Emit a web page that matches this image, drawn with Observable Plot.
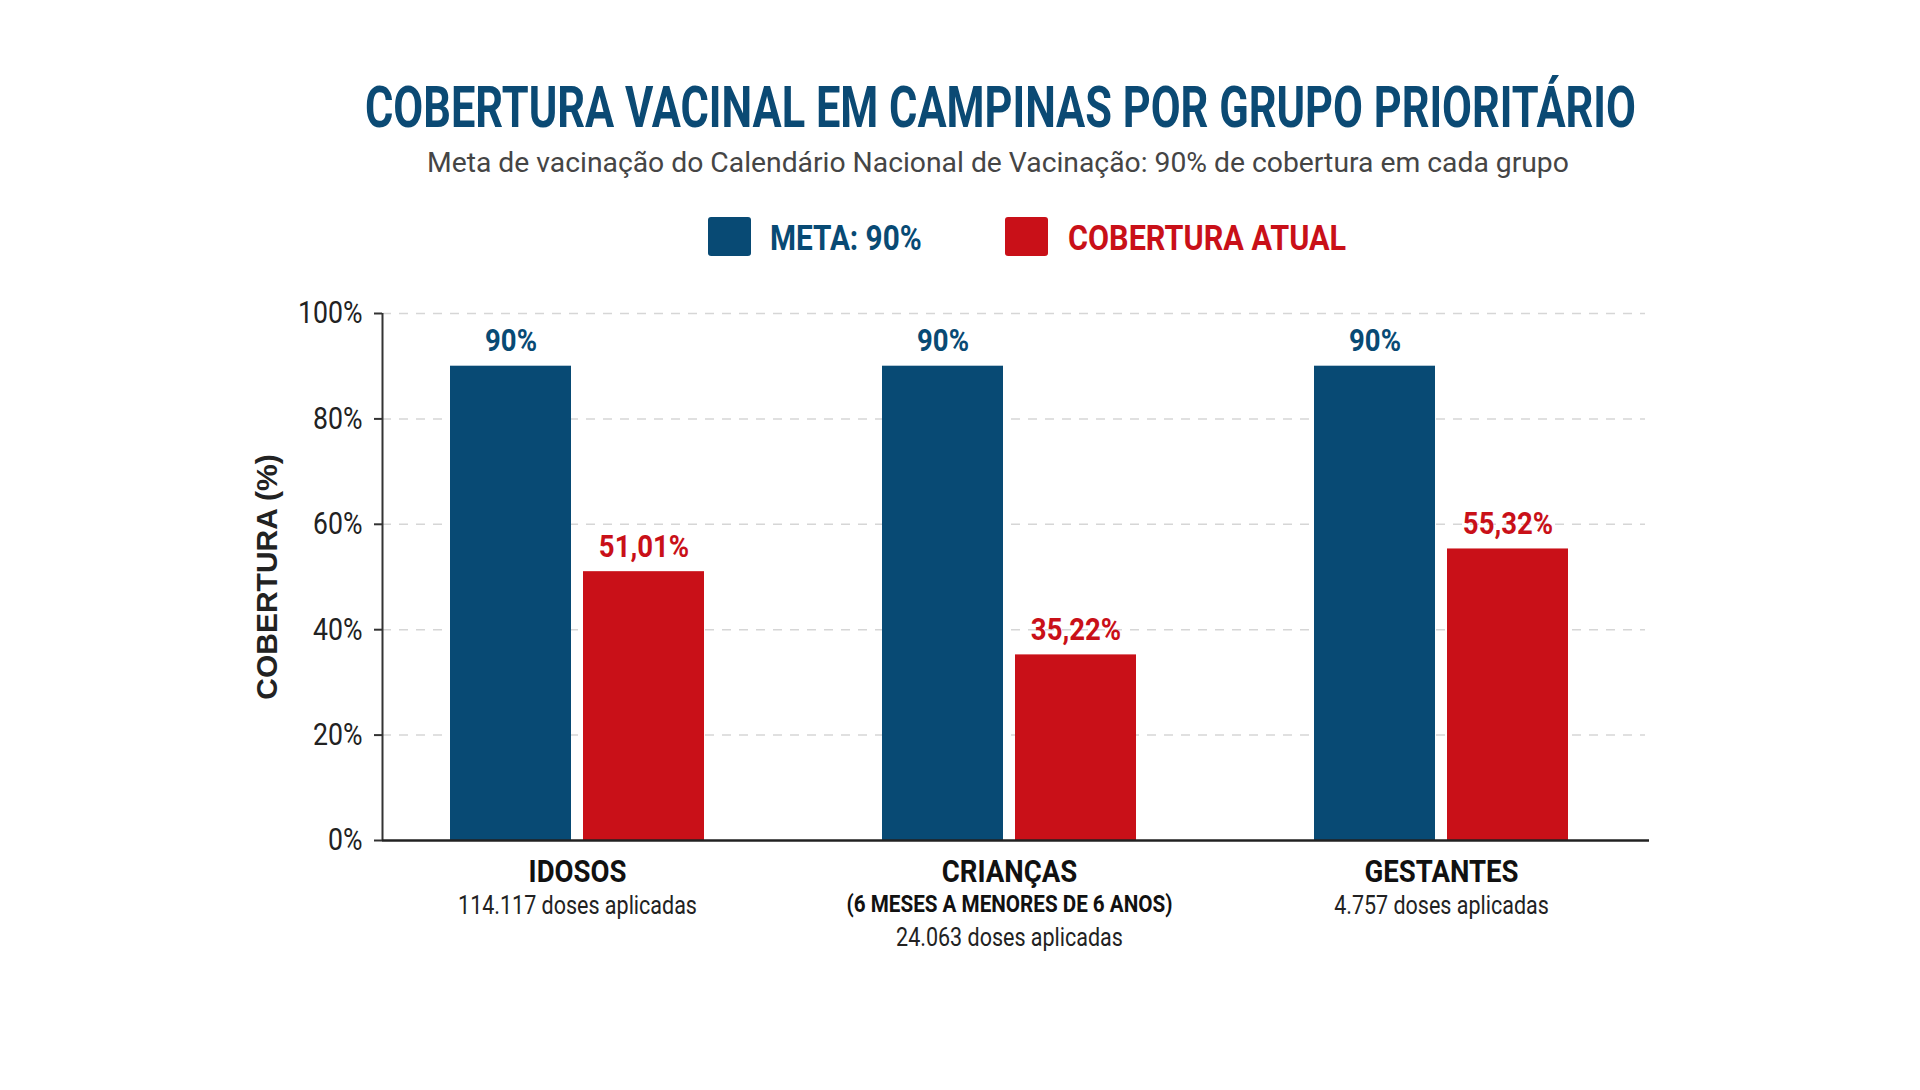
<!DOCTYPE html>
<html lang="pt-BR">
<head>
<meta charset="utf-8">
<script src="https://cdn.jsdelivr.net/npm/d3@7"></script>
<script src="https://cdn.jsdelivr.net/npm/@observablehq/plot@0.6"></script>
<style>
  html, body { margin: 0; padding: 0; background: #ffffff; }
  body { width: 1920px; height: 1090px; overflow: hidden; font-family: Roboto, "Noto Sans", sans-serif; }
  #header { position: relative; width: 1920px; height: 270px; }
  .abs { position: absolute; white-space: nowrap; line-height: 1; }
  #title { font-size: 58px; font-weight: 700; color: #0b4a74; transform-origin: 0 50%; }
  #subtitle { font-size: 27px; font-weight: 400; color: #454545; transform-origin: 0 50%; }
  .swatch { position: absolute; width: 43px; height: 39px; border-radius: 3px; }
  .legend-label { font-size: 35px; font-weight: 700; transform-origin: 0 50%; }
  #chart { position: relative; width: 1920px; height: 730px; }
  #chart svg { position: absolute; left: 0; top: 0; }
</style>
</head>
<body>
<div id="header">
  <div id="title" class="abs">COBERTURA VACINAL EM CAMPINAS POR GRUPO PRIORITÁRIO</div>
  <div id="subtitle" class="abs">Meta de vacinação do Calendário Nacional de Vacinação: 90% de cobertura em cada grupo</div>
  <div id="sw-meta" class="swatch" style="left:708px; top:217px;"></div>
  <div id="lg-meta" class="abs legend-label" style="left:770px; top:221px;"></div>
  <div id="sw-atual" class="swatch" style="left:1005px; top:217px;"></div>
  <div id="lg-atual" class="abs legend-label" style="left:1068px; top:221px;"></div>
</div>
<div id="chart"></div>
<script>
// Priority groups and their detail lines
const groups = ["IDOSOS", "CRIANÇAS", "GESTANTES"];
const groupNotes = ["", "(6 MESES A MENORES DE 6 ANOS)", ""];
const dosesText = ["114.117 doses aplicadas", "24.063 doses aplicadas", "4.757 doses aplicadas"];

// Series: national target and current coverage (%)
const series = ["META: 90%", "COBERTURA ATUAL"];
const seriesColors = ["#084a74", "#c91018"];
const metaValues = [90, 90, 90];
const coberturaValues = [51.01, 35.22, 55.32];

// Y axis ticks (%)
const yTicks = [0, 20, 40, 60, 80, 100];
const yLabel = "COBERTURA (%)";

const rows = groups.flatMap((g, i) => [
  {group: g, serie: series[0], value: metaValues[i]},
  {group: g, serie: series[1], value: coberturaValues[i]}
]);
const groupRows = groups.map((g, i) => ({group: g, note: groupNotes[i], doses: dosesText[i]}));

const fmtPct = v => (Number.isInteger(v) ? String(v) : v.toFixed(2).replace(".", ",")) + "%";
const colorOf = s => seriesColors[series.indexOf(s)];

// Header: legend
document.getElementById("sw-meta").style.background = seriesColors[0];
document.getElementById("sw-atual").style.background = seriesColors[1];
const lgMeta = document.getElementById("lg-meta");
lgMeta.textContent = series[0]; lgMeta.style.color = seriesColors[0];
const lgAtual = document.getElementById("lg-atual");
lgAtual.textContent = series[1]; lgAtual.style.color = seriesColors[1];

// Condensed lettering: squeeze a block horizontally to a given width
function fitBlock(el, targetWidth, centerX, top) {
  const w = el.offsetWidth;
  const k = targetWidth / w;
  el.style.top = top + "px";
  if (centerX != null) el.style.left = (centerX - targetWidth / 2) + "px";
  el.style.transform = `scaleX(${k})`;
}
fitBlock(document.getElementById("title"), 1271, 1000, 78);
fitBlock(document.getElementById("subtitle"), 1142, 998, 150);
fitBlock(lgMeta, 152, null, 221);
fitBlock(lgAtual, 278, null, 221);

// Shared frame geometry for the two layers
const frame = {width: 1920, height: 730, marginTop: 43, marginBottom: 160, marginLeft: 382, marginRight: 284};
const yScale = {domain: [0, 100], axis: null, label: null};
const fontStyle = {fontFamily: "Roboto, sans-serif", background: "transparent", color: "#222"};

// Back layer: grid, axes and y title across the whole frame
const axes = Plot.plot({
  ...frame,
  style: fontStyle,
  x: {domain: [0, 1], axis: null},
  y: yScale,
  marks: [
    Plot.ruleY(yTicks.filter(d => d > 0), {
      stroke: "#d6d6d6", strokeWidth: 1.5, strokeDasharray: "9,8", insetRight: -9
    }),
    Plot.axisY({
      ticks: yTicks, tickFormat: d => d + "%",
      tickSize: 8, tickPadding: 12, fontSize: 31, stroke: "#333", strokeWidth: 2,
      fill: "#222", label: null
    }),
    Plot.ruleX([0], {y1: 0, y2: 100, stroke: "#333", strokeWidth: 2}),
    Plot.text([yLabel], {
      frameAnchor: "left", textAnchor: "middle", text: d => d, rotate: -90, dx: -115,
      fontFamily: "Liberation Sans, Arial, sans-serif", fontSize: 30, fontWeight: 700, fill: "#222"
    })
  ]
});

// Front layer: grouped bars with value and group labels
const bars = Plot.plot({
  ...frame,
  style: fontStyle,
  fx: {domain: groups, paddingInner: 0.2, paddingOuter: 0.05, axis: null, label: null},
  x: {domain: series, paddingInner: 0.09, paddingOuter: 0.34, axis: null, label: null},
  y: yScale,
  marks: [
    Plot.barY(rows, {
      fx: "group", x: "serie", y: "value",
      fill: d => colorOf(d.serie)
    }),
    Plot.text(rows, {
      fx: "group", x: "serie", y: "value",
      text: d => fmtPct(d.value),
      fill: d => colorOf(d.serie),
      lineAnchor: "bottom", dy: -15,
      fontSize: 32, fontWeight: 700
    }),
    Plot.text(groupRows, {
      fx: "group", text: "group", frameAnchor: "bottom", dy: 41,
      fontSize: 32, fontWeight: 700, fill: "#111"
    }),
    Plot.text(groupRows.filter(d => d.note), {
      fx: "group", text: "note", frameAnchor: "bottom", dy: 71,
      fontSize: 24, fontWeight: 700, fill: "#111"
    }),
    Plot.text(groupRows.filter(d => !d.note), {
      fx: "group", text: "doses", frameAnchor: "bottom", dy: 73,
      fontSize: 25, fill: "#222"
    }),
    Plot.text(groupRows.filter(d => d.note), {
      fx: "group", text: "doses", frameAnchor: "bottom", dy: 105,
      fontSize: 25, fill: "#222"
    })
  ]
});

// Baseline drawn above the bars
const baseline = Plot.plot({
  ...frame,
  style: fontStyle,
  y: yScale,
  marks: [Plot.ruleY([0], {stroke: "#222", strokeWidth: 2.5, insetRight: -13})]
});

const holder = document.getElementById("chart");
holder.appendChild(axes);
holder.appendChild(bars);
holder.appendChild(baseline);

// Narrow the SVG lettering (condensed look), keeping the y title as is
[axes, bars].forEach(svg => svg.querySelectorAll("text").forEach(t => {
  if (t.textContent === yLabel) return;
  const parts = t.querySelectorAll("tspan");
  const targets = parts.length ? Array.from(parts) : [t];
  targets.forEach(el => {
    const w = el.getComputedTextLength();
    if (w > 0) {
      el.setAttribute("textLength", (w * 0.86).toFixed(1));
      el.setAttribute("lengthAdjust", "spacingAndGlyphs");
    }
  });
}));
</script>
</body>
</html>
